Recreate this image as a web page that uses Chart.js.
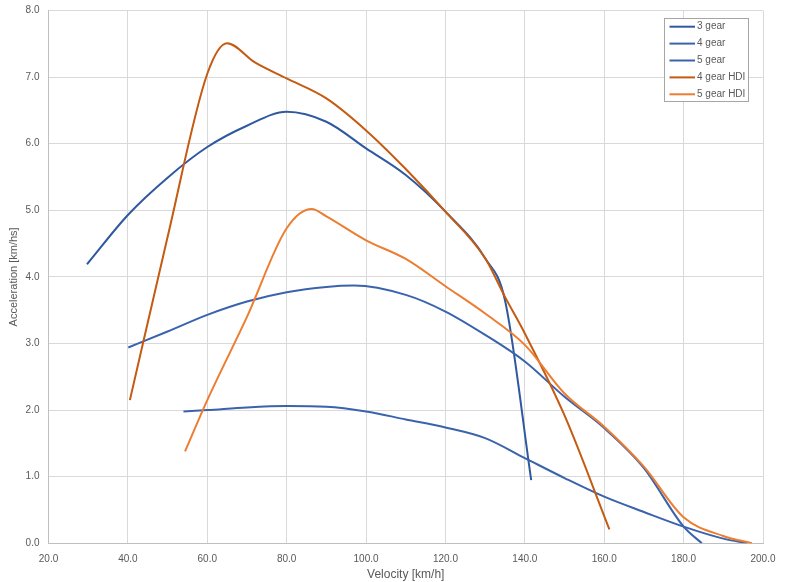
<!DOCTYPE html>
<html>
<head>
<meta charset="utf-8">
<script src="https://cdn.jsdelivr.net/npm/chart.js@4"></script>
<style>
html,body{margin:0;padding:0;background:#fff;}
#wrap{width:789px;height:582px;position:relative;}
</style>
</head>
<body>
<div id="wrap"><canvas id="c" width="789" height="582"></canvas></div>
<script>
// Series names
const seriesNames = ["3 gear", "4 gear", "5 gear", "4 gear HDI", "5 gear HDI"];

// Velocity [km/h] / acceleration [km/hs] values
const gear3V = [29.7, 40, 50, 60, 70, 80, 90, 100, 110, 120, 130, 135, 141.6];
const gear3A = [4.19, 4.93, 5.49, 5.95, 6.27, 6.48, 6.33, 5.93, 5.53, 4.98, 4.28, 3.65, 0.95];

const gear4V = [40.1, 50, 60, 70, 80, 90, 97, 110, 120, 130, 140, 150, 160, 170, 180, 184.6];
const gear4A = [2.94, 3.18, 3.43, 3.63, 3.77, 3.85, 3.87, 3.73, 3.48, 3.13, 2.73, 2.20, 1.73, 1.13, 0.25, 0.0];

const gear5V = [54.0, 60, 70, 80, 90, 100, 110, 120, 130, 140, 150, 160, 170, 180, 190, 196.0];
const gear5A = [1.98, 2.00, 2.04, 2.06, 2.05, 1.98, 1.86, 1.74, 1.58, 1.28, 0.98, 0.70, 0.47, 0.25, 0.07, 0.0];

const hdi4V = [40.5, 50, 60, 65, 72, 80, 90, 100, 110, 120, 130, 135, 140, 150, 161.3];
const hdi4A = [2.15, 4.6, 7.05, 7.51, 7.22, 6.98, 6.68, 6.2, 5.62, 4.98, 4.28, 3.7, 3.15, 1.92, 0.21];

const hdi5V = [54.4, 60, 70, 80, 86.3, 90, 100, 110, 120, 130, 140, 150, 160, 170, 180, 190, 197.2];
const hdi5A = [1.38, 2.15, 3.40, 4.73, 5.02, 4.91, 4.55, 4.27, 3.86, 3.45, 2.98, 2.25, 1.75, 1.15, 0.39, 0.11, 0.0];

// Axis ranges / ticks
const xMin = 20, xMax = 200, xStep = 20;
const yMin = 0, yMax = 8, yStep = 1;
const xTitle = "Velocity [km/h]";
const yTitle = "Acceleration [km/hs]";

const colors = ["#2F599F", "#3A63AD", "#3A63AD", "#C55A11", "#ED7D31"];

function pts(v, a) { return v.map((x, i) => ({x: x, y: a[i]})); }
const seriesData = [pts(gear3V, gear3A), pts(gear4V, gear4A), pts(gear5V, gear5A), pts(hdi4V, hdi4A), pts(hdi5V, hdi5A)];
const drawOrder = [4, 3, 2, 1, 0];

const datasets = seriesNames.map((n, i) => ({
  label: n,
  data: seriesData[i],
  showLine: true,
  borderColor: colors[i],
  backgroundColor: colors[i],
  borderWidth: 2,
  pointRadius: 0,
  pointHoverRadius: 0,
  cubicInterpolationMode: 'monotone',
  fill: false,
  order: drawOrder[i]
}));

const FONT = "'Liberation Sans', Arial, sans-serif";

const legendBox = {
  id: 'legendBox',
  afterDraw(chart) {
    const ctx = chart.ctx;
    const x0 = 664.5, y0 = 18.5, w = 84, h = 83;
    ctx.save();
    ctx.fillStyle = '#fff';
    ctx.fillRect(x0, y0, w, h);
    ctx.strokeStyle = '#a6a6a6';
    ctx.lineWidth = 1;
    ctx.strokeRect(x0, y0, w, h);
    ctx.font = "10px " + FONT;
    ctx.textBaseline = 'middle';
    ctx.textAlign = 'left';
    seriesNames.forEach((n, i) => {
      const y = 26.7 + i * 16.9;
      ctx.strokeStyle = colors[i];
      ctx.lineWidth = 2;
      ctx.beginPath();
      ctx.moveTo(669.5, y);
      ctx.lineTo(695, y);
      ctx.stroke();
      ctx.fillStyle = '#595959';
      ctx.fillText(n, 697, y);
    });
    ctx.restore();
  }
};

new Chart(document.getElementById('c'), {
  type: 'scatter',
  data: { datasets: datasets },
  options: {
    responsive: false,
    animation: false,
    events: [],
    layout: { padding: { top: 10.5, right: 26, bottom: 0, left: 0 } },
    plugins: {
      legend: { display: false },
      tooltip: { enabled: false },
      title: { display: false }
    },
    scales: {
      x: {
        type: 'linear',
        min: xMin, max: xMax,
        ticks: {
          stepSize: xStep,
          color: '#595959',
          font: { family: FONT, size: 10 },
          padding: 10,
          maxRotation: 0,
          callback: v => Number(v).toFixed(1)
        },
        grid: { color: '#d9d9d9', drawTicks: false, lineWidth: 1 },
        border: { color: '#bfbfbf', width: 1 },
        title: { display: true, text: xTitle, color: '#595959', font: { family: FONT, size: 12 }, padding: { top: 0, bottom: 0 } },
        afterFit(s) { s.height = 38.7; }
      },
      y: {
        type: 'linear',
        min: yMin, max: yMax,
        ticks: {
          stepSize: yStep,
          color: '#595959',
          font: { family: FONT, size: 10 },
          padding: 9,
          callback: v => Number(v).toFixed(1)
        },
        grid: { color: '#d9d9d9', drawTicks: false, lineWidth: 1 },
        border: { color: '#bfbfbf', width: 1 },
        title: { display: true, text: yTitle, color: '#595959', font: { family: FONT, size: 11 }, padding: { top: 7.5, bottom: 0 } },
        afterFit(s) { s.width = 48.5; s.paddingTop = 0; s.paddingBottom = 0; }
      }
    }
  },
  plugins: [legendBox]
});
</script>
</body>
</html>
